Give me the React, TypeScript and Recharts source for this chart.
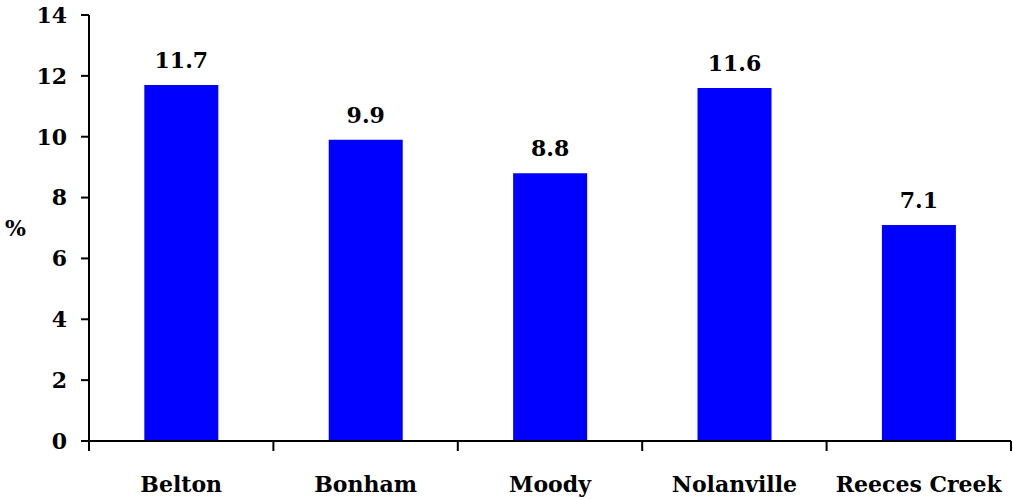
import React from 'react';
import { BarChart, Bar, XAxis, YAxis, LabelList, Label } from 'recharts';

const categories = ['Belton', 'Bonham', 'Moody', 'Nolanville', 'Reeces Creek'];
const values = [11.7, 9.9, 8.8, 11.6, 7.1];
const yTicks = [0, 2, 4, 6, 8, 10, 12, 14];

const data = categories.map((name, i) => ({ name, value: values[i] }));

const W = 1013;
const H = 500;
const MARGIN = { top: 15, right: 2, bottom: 0, left: 0 };
const Y_AXIS_W = 89;
const BAND = (W - MARGIN.left - MARGIN.right - Y_AXIS_W) / categories.length;

const FONT = '"DejaVu Serif", serif';
const textStyle = { fontFamily: FONT, fontWeight: 'bold', fontSize: 22, fill: '#000' };

// category label at the band centre, tick marks on the band boundaries
const CategoryTick = (props: any) => {
  const { x, y, payload, index } = props;
  const last = index === categories.length - 1;
  return (
    <g>
      <line x1={x - BAND / 2} y1={y} x2={x - BAND / 2} y2={y + 10} stroke="#000" strokeWidth={2} />
      {last && (
        <line x1={x + BAND / 2} y1={y} x2={x + BAND / 2} y2={y + 10} stroke="#000" strokeWidth={2} />
      )}
      <text x={x} y={y + 51} textAnchor="middle" style={textStyle}>
        {payload.value}
      </text>
    </g>
  );
};

export default function App() {
  return (
    <div style={{ position: 'absolute', left: 0, top: 0, background: '#fff' }}>
      <BarChart width={W} height={H} data={data} margin={MARGIN} barCategoryGap="30%">
        <XAxis
          dataKey="name"
          height={59}
          axisLine={{ stroke: '#000', strokeWidth: 2 }}
          tickLine={false}
          tickSize={0}
          tickMargin={0}
          interval={0}
          tick={<CategoryTick />}
        />
        <YAxis
          width={Y_AXIS_W}
          domain={[0, 14]}
          ticks={yTicks}
          interval={0}
          tickSize={8}
          tickMargin={14}
          axisLine={{ stroke: '#000', strokeWidth: 2 }}
          tickLine={{ stroke: '#000', strokeWidth: 2 }}
          tick={textStyle}
        >
          <Label value="%" position="insideLeft" offset={5} style={textStyle} />
        </YAxis>
        <Bar dataKey="value" fill="#0000FF" isAnimationActive={false}>
          <LabelList dataKey="value" position="top" offset={17} style={textStyle} />
        </Bar>
      </BarChart>
    </div>
  );
}
